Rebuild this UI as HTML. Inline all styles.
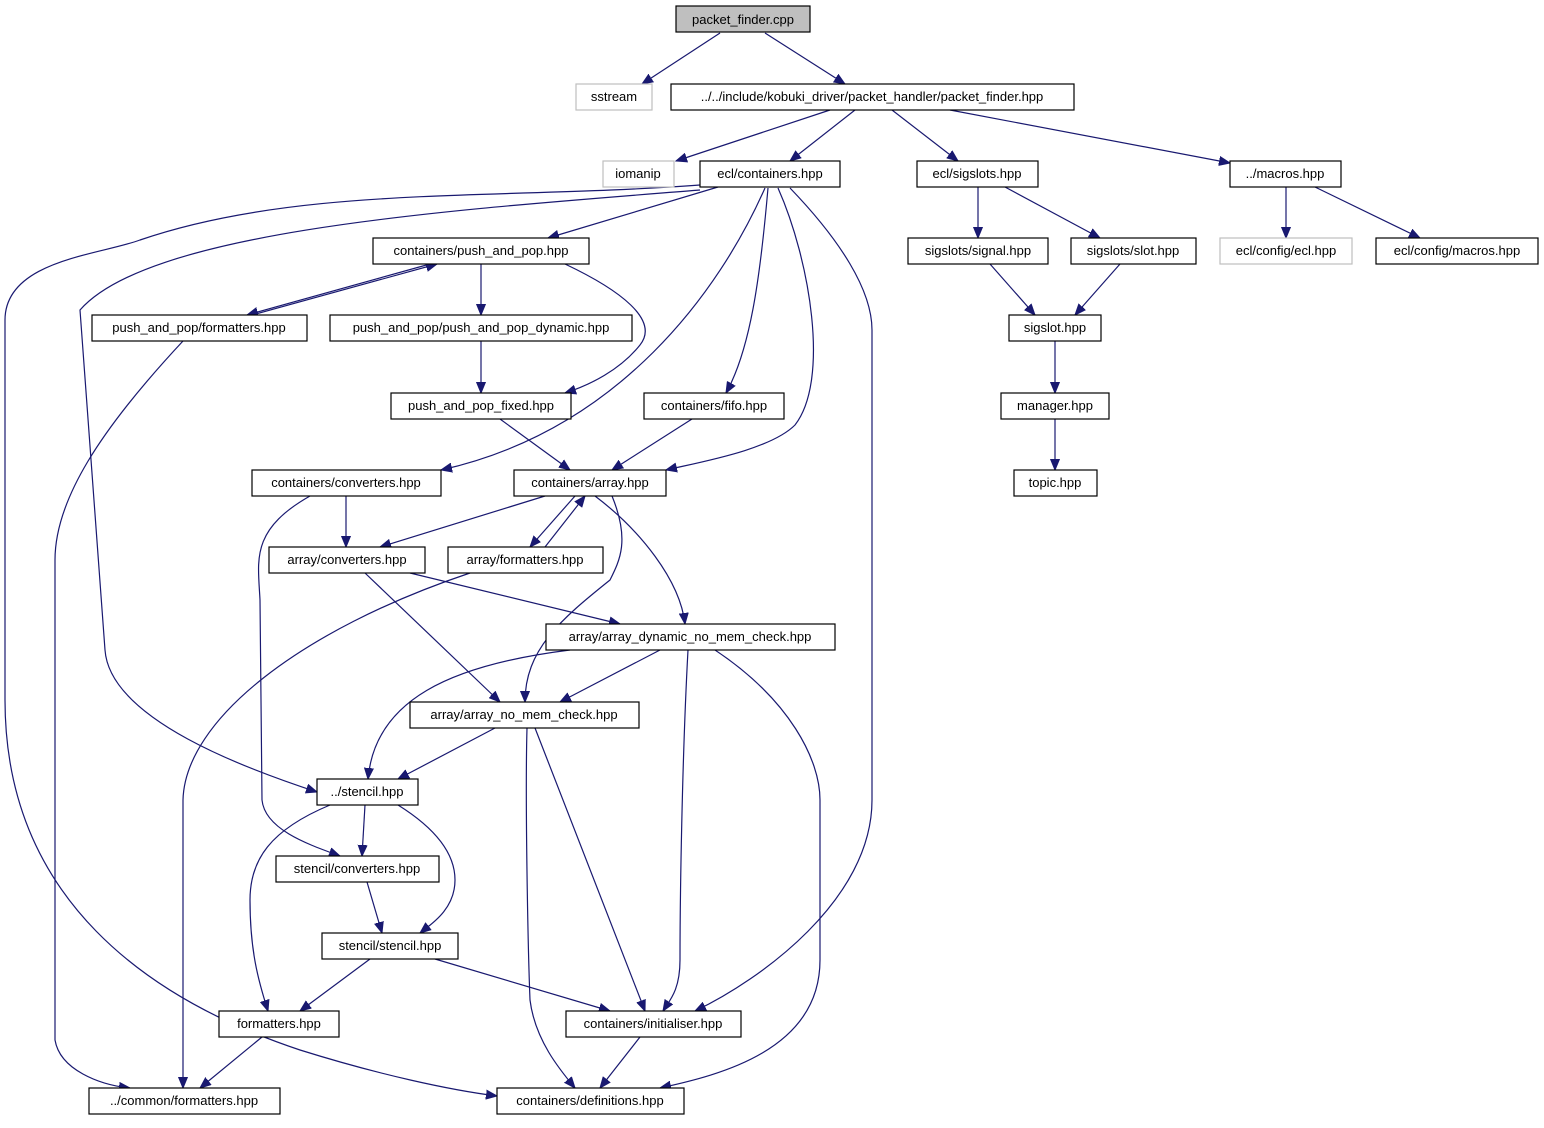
<!DOCTYPE html>
<html><head><meta charset="utf-8"><style>
html,body{margin:0;padding:0;background:#fff;}
svg text{font-family:"Liberation Sans",sans-serif;font-size:13px;}
</style></head><body>
<svg width="1544" height="1123" viewBox="0 0 1544 1123" xmlns="http://www.w3.org/2000/svg">
<defs>
<marker id="a" markerUnits="userSpaceOnUse" markerWidth="12" markerHeight="10" refX="11" refY="5" orient="auto">
<path d="M0,0.5 L11,5 L0,9.5 Z" fill="#191970" stroke="#191970"/>
</marker>
</defs>
<g fill="none" stroke="#191970" stroke-width="1.2" marker-end="url(#a)">
<path d="M720,33 L642,84"/>
<path d="M765,33 L845,84"/>
<path d="M830,110 L676,161"/>
<path d="M855,110 L790,161"/>
<path d="M892,110 L958,161"/>
<path d="M950,110 L1230,163"/>
<path d="M718,187 L548,238"/>
<path d="M700,190 C450,210 150,230 80,310 L105,650 C110,720 250,770 317,792"/>
<path d="M700,185 C500,200 300,185 140,240 C100,255 5,260 5,320 L5,700 C5,900 150,1000 300,1050 C380,1075 450,1090 497,1096"/>
<path d="M765,188 C720,290 620,430 441,470"/>
<path d="M768,188 C760,280 750,350 726,393"/>
<path d="M778,188 C810,260 830,380 795,425 C770,450 700,462 666,470"/>
<path d="M790,188 C840,240 872,290 872,330 L872,800 C872,900 760,980 695,1011"/>
<path d="M430,264 L247,315"/>
<path d="M252,315 L437,264"/>
<path d="M481,264 L481,315"/>
<path d="M565,264 C620,290 660,320 640,345 C620,370 590,385 565,393"/>
<path d="M481,341 L481,393"/>
<path d="M500,419 L570,470"/>
<path d="M692,419 L612,470"/>
<path d="M183,341 C100,430 55,500 55,560 L55,1040 C60,1070 100,1085 130,1088"/>
<path d="M346,496 L346,547"/>
<path d="M310,496 C250,530 258,560 260,600 L262,800 C265,830 310,845 340,856"/>
<path d="M545,496 L380,547"/>
<path d="M575,496 L530,547"/>
<path d="M545,547 L585,496"/>
<path d="M595,496 C640,530 680,580 685,624"/>
<path d="M612,496 C630,540 620,560 610,580 C560,620 525,650 525,702"/>
<path d="M410,573 L620,624"/>
<path d="M365,573 L500,702"/>
<path d="M470,573 C300,630 185,720 183,800 L183,1088"/>
<path d="M660,650 L560,702"/>
<path d="M570,650 C450,665 375,700 368,779"/>
<path d="M688,650 C682,760 680,900 680,960 C680,990 670,1000 663,1011"/>
<path d="M715,650 C790,700 820,760 820,800 L820,960 C820,1050 720,1075 660,1088"/>
<path d="M495,728 L398,779"/>
<path d="M535,728 L645,1011"/>
<path d="M527,728 C525,800 528,950 530,1000 C535,1040 560,1070 575,1088"/>
<path d="M365,805 L362,856"/>
<path d="M330,805 C270,830 250,860 250,900 C250,950 258,980 268,1011"/>
<path d="M398,805 C430,825 455,850 455,880 C455,910 430,925 420,933"/>
<path d="M367,882 L382,933"/>
<path d="M370,959 L300,1011"/>
<path d="M435,959 L610,1011"/>
<path d="M262,1037 L200,1088"/>
<path d="M640,1037 L600,1088"/>
<path d="M978,187 L978,238"/>
<path d="M1005,187 L1100,238"/>
<path d="M990,264 L1035,315"/>
<path d="M1120,264 L1075,315"/>
<path d="M1055,341 L1055,393"/>
<path d="M1055,419 L1055,470"/>
<path d="M1286,187 L1286,238"/>
<path d="M1315,187 L1420,238"/>
</g>
<g stroke-width="1.2">
<rect x="676" y="6" width="134" height="26" fill="#bfbfbf" stroke="#000"/>
<rect x="576" y="84" width="76" height="26" fill="#fff" stroke="#bfbfbf"/>
<rect x="671" y="84" width="403" height="26" fill="#fff" stroke="#000"/>
<rect x="603" y="161" width="71" height="26" fill="#fff" stroke="#bfbfbf"/>
<rect x="700" y="161" width="140" height="26" fill="#fff" stroke="#000"/>
<rect x="917" y="161" width="121" height="26" fill="#fff" stroke="#000"/>
<rect x="1230" y="161" width="111" height="26" fill="#fff" stroke="#000"/>
<rect x="373" y="238" width="216" height="26" fill="#fff" stroke="#000"/>
<rect x="92" y="315" width="215" height="26" fill="#fff" stroke="#000"/>
<rect x="330" y="315" width="302" height="26" fill="#fff" stroke="#000"/>
<rect x="391" y="393" width="180" height="26" fill="#fff" stroke="#000"/>
<rect x="644" y="393" width="140" height="26" fill="#fff" stroke="#000"/>
<rect x="252" y="470" width="189" height="26" fill="#fff" stroke="#000"/>
<rect x="514" y="470" width="152" height="26" fill="#fff" stroke="#000"/>
<rect x="269" y="547" width="156" height="26" fill="#fff" stroke="#000"/>
<rect x="448" y="547" width="155" height="26" fill="#fff" stroke="#000"/>
<rect x="546" y="624" width="289" height="26" fill="#fff" stroke="#000"/>
<rect x="410" y="702" width="229" height="26" fill="#fff" stroke="#000"/>
<rect x="317" y="779" width="101" height="26" fill="#fff" stroke="#000"/>
<rect x="276" y="856" width="163" height="26" fill="#fff" stroke="#000"/>
<rect x="322" y="933" width="136" height="26" fill="#fff" stroke="#000"/>
<rect x="219" y="1011" width="120" height="26" fill="#fff" stroke="#000"/>
<rect x="566" y="1011" width="175" height="26" fill="#fff" stroke="#000"/>
<rect x="89" y="1088" width="191" height="26" fill="#fff" stroke="#000"/>
<rect x="497" y="1088" width="187" height="26" fill="#fff" stroke="#000"/>
<rect x="908" y="238" width="140" height="26" fill="#fff" stroke="#000"/>
<rect x="1071" y="238" width="125" height="26" fill="#fff" stroke="#000"/>
<rect x="1220" y="238" width="132" height="26" fill="#fff" stroke="#bfbfbf"/>
<rect x="1376" y="238" width="162" height="26" fill="#fff" stroke="#000"/>
<rect x="1009" y="315" width="92" height="26" fill="#fff" stroke="#000"/>
<rect x="1001" y="393" width="108" height="26" fill="#fff" stroke="#000"/>
<rect x="1014" y="470" width="83" height="26" fill="#fff" stroke="#000"/>
</g>
<g text-anchor="middle" fill="#000">
<text x="743" y="24">packet_finder.cpp</text>
<text x="614" y="101">sstream</text>
<text x="872" y="101">../../include/kobuki_driver/packet_handler/packet_finder.hpp</text>
<text x="638" y="178">iomanip</text>
<text x="770" y="178">ecl/containers.hpp</text>
<text x="977" y="178">ecl/sigslots.hpp</text>
<text x="1285" y="178">../macros.hpp</text>
<text x="481" y="255">containers/push_and_pop.hpp</text>
<text x="199" y="332">push_and_pop/formatters.hpp</text>
<text x="481" y="332">push_and_pop/push_and_pop_dynamic.hpp</text>
<text x="481" y="410">push_and_pop_fixed.hpp</text>
<text x="714" y="410">containers/fifo.hpp</text>
<text x="346" y="487">containers/converters.hpp</text>
<text x="590" y="487">containers/array.hpp</text>
<text x="347" y="564">array/converters.hpp</text>
<text x="525" y="564">array/formatters.hpp</text>
<text x="690" y="641">array/array_dynamic_no_mem_check.hpp</text>
<text x="524" y="719">array/array_no_mem_check.hpp</text>
<text x="367" y="796">../stencil.hpp</text>
<text x="357" y="873">stencil/converters.hpp</text>
<text x="390" y="950">stencil/stencil.hpp</text>
<text x="279" y="1028">formatters.hpp</text>
<text x="653" y="1028">containers/initialiser.hpp</text>
<text x="184" y="1105">../common/formatters.hpp</text>
<text x="590" y="1105">containers/definitions.hpp</text>
<text x="978" y="255">sigslots/signal.hpp</text>
<text x="1133" y="255">sigslots/slot.hpp</text>
<text x="1286" y="255">ecl/config/ecl.hpp</text>
<text x="1457" y="255">ecl/config/macros.hpp</text>
<text x="1055" y="332">sigslot.hpp</text>
<text x="1055" y="410">manager.hpp</text>
<text x="1055" y="487">topic.hpp</text>
</g>
</svg>
</body></html>
